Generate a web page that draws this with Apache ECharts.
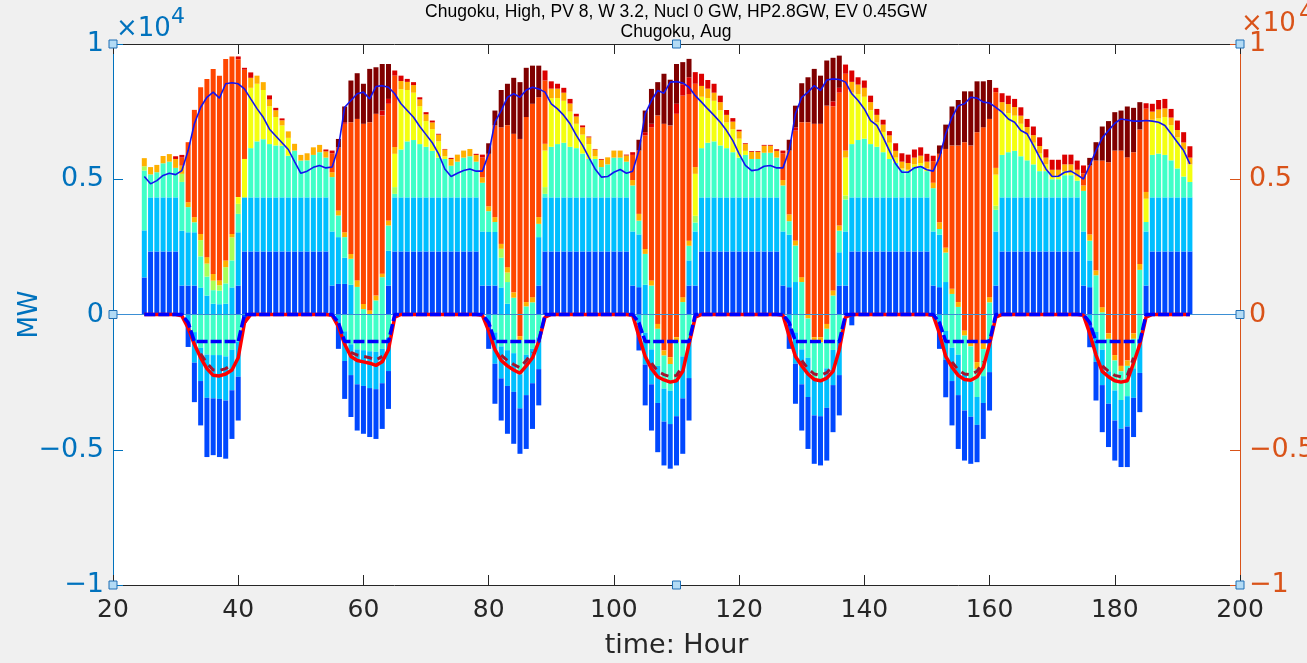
<!DOCTYPE html>
<html><head><meta charset="utf-8">
<script src="https://cdn.jsdelivr.net/npm/echarts@6/dist/echarts.min.js"></script>
<style>html,body{margin:0;padding:0;background:#f0f0f0;}#c{width:1307px;height:663px;}</style>
</head><body><div id="c"></div>
<script>
// ---- axis / labels ----
const xStart = 20, xEnd = 200, firstHour = 25;
const xTickLabels = ['20','40','60','80','100','120','140','160','180','200'];
const yTickValues = [-10000,-5000,0,5000,10000];
const yTickLabels = ['\u22121','\u22120.5','0','0.5','1'];
const titleLine2 = 'Chugoku, High, PV 8, W 3.2, Nucl 0 GW, HP2.8GW, EV 0.45GW';
const titleLine3 = 'Chugoku, Aug';

// ---- positive stacked supply (MW), hours 25..192, one day per line ----
const sDB = [
1370,2330,2330,2330,2330,2330,1070,1070,1070,0,0,0,0,0,0,1070,2330,2330,2330,2330,2330,2330,2330,2330,
2330,2330,2330,2330,2330,2330,1070,1130,1130,0,0,0,0,0,0,1070,2330,2330,2330,2330,2330,2330,2330,2330,
2330,2330,2330,2330,2330,2330,1070,1070,1070,0,0,0,0,0,0,1070,2330,2330,2330,2330,2330,2330,2330,2330,
2330,2330,2330,2330,2330,2330,1070,1010,0,0,0,0,0,0,0,1070,1070,2330,2330,2330,2330,2330,2330,2330,
2330,2330,2330,2330,2330,2330,1070,1010,0,0,0,0,0,0,0,1070,1070,2330,2330,2330,2330,2330,2330,2330,
2330,2330,2330,2330,2330,2330,1070,1010,0,0,0,0,0,0,0,0,1070,2330,2330,2330,2330,2330,2330,2330,
2330,2330,2330,2330,2330,2330,1070,1010,0,0,0,0,0,0,0,0,1070,2330,2330,2330,2330,2330,2330,2330];
const sLB = [
1740,2000,2000,2000,2000,2000,2030,1970,1970,1000,700,400,380,400,1000,1970,2000,2000,2000,2000,2000,2000,2000,2000,
2000,2000,2000,2000,2000,2000,2000,1730,970,1100,0,0,0,0,0,1290,2000,2000,2000,2000,2000,2000,2000,2000,
2000,2000,2000,2000,2000,2000,2000,1980,1980,1000,400,0,0,0,0,1790,2000,2000,2000,2000,2000,2000,2000,2000,
2000,2000,2000,2000,2000,2000,2000,1950,1100,0,0,0,0,0,0,930,2000,2000,2000,2000,2000,2000,2000,2000,
2000,2000,2000,2000,2000,2000,2000,1940,1200,0,0,0,0,0,0,1230,2000,2000,2000,2000,2000,2000,2000,2000,
2000,2000,2000,2000,2000,2000,2000,1940,1200,0,0,0,0,0,0,0,2000,2000,2000,2000,2000,2000,2000,2000,
2000,2000,2000,2000,2000,2000,2000,990,0,0,0,0,0,0,0,0,2000,2000,2000,2000,2000,2000,2000,2000];
const sCY = [
2210,850,930,1260,1320,1090,1800,930,370,1150,700,500,500,750,1000,680,0,1820,2070,2150,1970,1920,1910,1540,
1730,1360,1370,1570,1670,1470,2010,800,760,960,1020,200,0,520,1380,930,130,1770,2070,2120,1970,1870,1720,1470,
1420,1170,1320,1470,1520,1320,1800,770,370,1100,800,620,0,300,450,490,130,1870,1970,2020,1870,1820,1620,1420,
1420,1120,1220,1470,1470,1320,1700,510,1140,1070,0,0,0,0,460,540,330,1820,2020,2070,1920,1820,1670,1470,
1570,1420,1420,1650,1650,1470,1700,500,1350,1200,0,0,0,0,700,800,1180,1970,2120,2170,1970,1870,1670,1420,
1270,1020,970,1120,1170,970,1600,210,1090,760,280,0,0,0,0,450,800,1570,1670,1720,1520,1370,1220,970,
970,670,670,820,820,620,1500,730,1450,80,0,0,0,0,0,1650,350,1570,1620,1570,1370,1070,770,570];
const sGR = [
160,0,0,0,0,0,300,0,0,600,480,350,200,600,850,370,0,0,0,0,0,0,0,0,
0,0,0,0,0,0,0,0,0,0,0,0,0,0,0,0,250,0,0,0,0,0,0,0,
0,0,0,0,0,0,0,0,0,330,350,0,0,0,0,0,250,0,0,0,0,0,0,0,
0,0,0,0,0,0,0,0,0,0,0,0,0,0,0,0,250,0,0,0,0,0,0,0,
0,0,0,0,0,0,0,0,0,0,0,0,0,0,0,0,150,0,0,0,0,0,0,0,
0,0,0,0,0,0,0,0,0,0,0,0,0,0,0,0,150,0,0,0,0,0,0,0,
0,0,0,0,0,0,0,0,0,0,0,0,0,0,0,0,0,0,0,0,0,0,0,0];
const sYE = [
0,0,0,0,0,0,0,0,0,0,0,0,0,0,0,250,1420,2230,2130,1820,1400,1050,750,660,
0,0,0,0,0,0,0,0,0,0,0,0,0,0,0,0,1230,2230,1900,1750,1400,950,800,600,
100,0,0,0,0,0,0,0,0,0,0,0,0,0,0,0,1350,1800,1700,1550,1300,900,700,550,
100,0,0,0,0,0,0,0,0,0,0,0,0,0,0,0,1550,1900,1650,1500,1300,950,850,700,
150,0,0,0,0,0,0,0,0,0,0,0,0,0,0,0,1400,1900,1700,1550,1250,900,750,600,
200,50,50,100,100,100,0,0,0,0,0,0,0,0,0,0,1150,1600,1450,1300,1200,950,800,650,
250,100,100,150,150,150,0,0,0,0,0,0,0,0,0,0,860,1300,1300,1400,1300,1150,1000,650];
const sOR = [
300,270,270,270,280,330,300,180,190,230,240,250,180,250,130,0,0,370,300,290,250,250,190,240,
250,210,260,280,270,230,180,180,180,180,240,190,150,180,130,180,250,300,300,280,250,250,250,250,
250,250,260,260,270,250,200,180,180,180,200,200,0,160,190,250,250,350,350,300,300,270,270,250,
250,270,260,260,260,230,200,250,180,190,0,0,0,0,180,190,250,400,350,300,300,280,280,270,
250,260,260,260,260,250,200,250,180,180,0,0,0,0,190,190,260,400,350,330,300,280,270,270,
250,250,250,250,270,250,200,250,180,190,180,0,0,0,0,190,250,350,330,320,300,280,280,280,
250,250,250,250,250,250,200,230,180,190,0,0,0,0,0,220,250,300,330,320,280,270,260,250];
const sPV = [
0,0,0,0,0,0,300,2220,3965,5420,6590,7580,7570,7450,6560,5100,3300,0,0,0,0,0,0,0,
0,0,0,0,0,0,700,2340,4010,4870,5970,6660,6960,6720,5850,4320,2640,0,0,0,0,0,0,0,
0,0,0,0,0,0,740,1940,3390,4310,5250,5860,6490,6840,7150,4430,2340,0,0,0,0,0,0,0,
0,0,0,0,0,0,930,2340,4200,5660,7360,7050,6990,7420,7450,5420,3080,0,0,0,0,0,0,0,
0,0,0,0,0,0,990,2360,4070,5730,7110,7050,7050,7720,6810,4910,2840,0,0,0,0,0,0,0,
0,0,0,0,0,0,800,2530,3650,5300,5790,6370,6250,6740,6920,6590,2800,0,0,0,0,0,0,0,
0,0,0,0,0,0,450,2550,4060,5420,5630,6060,6060,5810,6000,4970,3080,0,0,0,0,0,0,0];
const sRD = [
0,0,0,0,0,100,100,0,0,0,0,0,0,0,0,100,70,200,0,0,150,90,70,0,
0,0,0,0,0,70,100,0,60,0,0,0,0,0,180,180,190,200,110,110,80,80,70,30,
20,40,0,0,0,40,100,0,0,0,0,0,0,0,0,0,370,270,180,180,170,100,70,30,
20,30,0,0,0,30,100,0,120,130,0,0,0,370,420,620,430,450,320,330,240,180,130,60,
30,30,30,30,30,60,100,0,120,0,0,0,0,0,180,180,340,420,270,270,240,220,180,160,
280,310,310,300,310,290,200,0,0,0,0,0,0,0,0,0,160,330,310,300,310,300,320,320,
310,370,370,360,360,340,290,0,0,0,0,0,0,0,0,0,200,290,350,350,320,350,380,420];
const sDR = [
0,0,0,0,0,0,0,0,0,0,0,0,0,0,0,0,0,0,0,0,0,0,0,0,
0,0,0,0,0,0,0,310,580,1540,1690,1480,1970,1720,1720,1290,0,0,0,0,0,0,0,0,
0,0,0,0,0,0,0,390,550,1380,1530,2070,2100,1820,1410,1170,0,0,0,0,0,0,0,0,
0,0,0,0,0,0,0,400,800,1290,1230,1850,1690,1470,820,680,0,0,0,0,0,0,0,0,
0,0,0,0,0,0,0,400,800,1440,1660,2030,1780,1670,1610,1190,0,0,0,0,0,0,0,0,
0,0,0,0,0,0,0,310,900,1440,1680,1880,2000,1880,1700,1440,0,0,0,0,0,0,0,0,
0,0,0,0,0,0,0,280,680,1260,1520,1420,1480,1880,1640,1010,0,0,0,0,0,0,0,0];

// ---- negative stacked (MW), from zero downward ----
const nPV = [
0,0,0,0,0,0,0,0,0,0,0,0,0,0,0,0,0,0,0,0,0,0,0,0,
0,0,0,0,0,0,0,0,0,0,0,0,0,0,0,0,0,0,0,0,0,0,0,0,
0,0,0,0,0,0,0,0,0,0,0,0,-800,0,0,0,0,0,0,0,0,0,0,0,
0,0,0,0,0,0,0,0,0,0,-350,-1330,-1580,-840,0,0,0,0,0,0,0,0,0,0,
0,0,0,0,0,0,0,0,0,0,0,-840,-840,-350,0,0,0,0,0,0,0,0,0,0,
0,0,0,0,0,0,0,0,0,0,0,-600,-960,-1760,-1080,0,0,0,0,0,0,0,0,0,
0,0,0,0,0,0,0,0,0,0,-700,-1500,-1900,-1700,-700,0,0,0,0,0,0,0,0,0];
const nOR = [
0,0,0,0,0,0,0,0,0,0,0,0,0,0,0,0,0,0,0,0,0,0,0,0,
0,0,0,0,0,0,0,0,0,0,0,0,0,0,0,0,0,0,0,0,0,0,0,0,
0,0,0,0,0,0,0,0,0,0,0,0,-150,0,0,0,0,0,0,0,0,0,0,0,
0,0,0,0,0,0,0,0,0,0,-180,-190,-250,-180,0,0,0,0,0,0,0,0,0,0,
0,0,0,0,0,0,0,0,0,0,-150,-190,-190,-180,0,0,0,0,0,0,0,0,0,0,
0,0,0,0,0,0,0,0,0,0,0,-180,-220,-250,-200,0,0,0,0,0,0,0,0,0,
0,0,0,0,0,0,0,0,0,0,-200,-200,-200,-200,-200,0,0,0,0,0,0,0,0,0];
const nCY = [
0,0,0,0,0,0,0,0,-650,-1230,-1480,-1500,-1500,-1550,-1300,-1000,0,0,0,0,0,0,0,0,
0,0,0,0,0,0,0,0,-620,-1100,-1290,-1320,-1360,-1380,-1270,-870,0,0,0,0,0,0,0,0,
0,0,0,0,0,0,0,0,-660,-1180,-1320,-1430,-1260,-1490,-1270,-840,0,0,0,0,0,0,0,0,
0,0,0,0,0,0,0,0,-670,-1290,-1370,-1220,-990,-1370,-1550,-980,0,0,0,0,0,0,0,0,
0,0,0,0,0,0,0,0,-660,-1290,-1450,-1350,-1370,-1460,-1310,-930,0,0,0,0,0,0,0,0,
0,0,0,0,0,0,0,0,-610,-1230,-1490,-1390,-1300,-1040,-1000,-890,0,0,0,0,0,0,0,0,
0,0,0,0,0,0,0,0,-640,-1300,-1200,-1110,-1060,-1120,-1090,-900,0,0,0,0,0,0,0,0];
const nLB = [
0,0,0,0,0,0,0,-360,-1130,-1230,-1600,-1600,-1620,-1630,-1500,-1300,0,0,0,0,0,0,0,0,
0,0,0,0,0,0,0,-380,-1100,-1140,-1290,-1320,-1360,-1380,-1270,-1220,0,0,0,0,0,0,0,0,
0,0,0,0,0,0,0,-380,-1160,-1180,-1320,-1430,-1260,-1490,-1270,-1180,0,0,0,0,0,0,0,0,
0,0,0,0,0,0,0,-400,-1180,-1290,-1370,-1220,-1230,-1370,-1550,-1370,0,0,0,0,0,0,0,0,
0,0,0,0,0,0,0,-380,-1160,-1290,-1450,-1350,-1360,-1460,-1300,-1310,0,0,0,0,0,0,0,0,
0,0,0,0,0,0,0,-380,-1070,-1230,-1490,-1380,-1300,-1030,-990,-1240,0,0,0,0,0,0,0,0,
0,0,0,0,0,0,0,-360,-1110,-1310,-1200,-1110,-1060,-1120,-1090,-1260,0,0,0,0,0,0,0,0];
const nDB = [
0,0,0,0,0,0,0,-840,-1460,-1640,-2190,-2100,-2150,-2150,-1800,-1620,-300,0,0,0,0,0,0,0,
0,0,0,0,0,0,0,-890,-1400,-1550,-1710,-1770,-1810,-1840,-1690,-1400,0,0,0,0,0,0,0,0,
0,0,0,0,0,0,0,-890,-1480,-1560,-1770,-1920,-1680,-1990,-1690,-1340,0,0,0,0,0,0,0,0,
0,0,0,0,0,0,0,-930,-1510,-1710,-1820,-1620,-1650,-1820,-2050,-1570,0,0,0,0,0,0,0,0,
0,0,0,0,0,0,0,-890,-1480,-1710,-1920,-1790,-1820,-1950,-1740,-1490,0,-400,0,0,0,0,0,0,
0,0,0,0,0,0,0,-890,-1380,-1640,-1990,-1850,-1740,-1380,-1330,-1420,0,0,0,0,0,0,0,0,
0,0,0,0,0,0,0,-850,-1430,-1740,-1600,-1480,-1420,-1500,-1450,-1450,0,0,0,0,0,0,0,0];

// ---- lines (MW) ----
const demand = [
5100,4830,4950,5140,5220,5170,5320,6060,7050,7660,8030,8220,8000,8530,8570,8530,8340,7970,7610,7290,6850,6600,6350,6100,
5650,5220,5300,5440,5510,5420,5450,6180,7660,7910,8160,8220,7970,8430,8460,8400,8160,7790,7540,7290,6950,6650,6350,5940,
5380,5100,5220,5320,5380,5300,5300,5940,7110,7540,8030,8160,8030,8300,8400,8340,8220,7790,7600,7360,7050,6620,6250,5810,
5380,5080,5100,5260,5360,5220,5300,6060,7420,7910,8280,8180,8590,8610,8560,8400,8090,7850,7600,7360,7110,6800,6430,5940,
5510,5320,5350,5480,5510,5420,5420,6060,7420,8030,8220,8460,8280,8670,8710,8690,8590,8160,7910,7600,7170,6990,6550,6060,
5570,5260,5260,5420,5470,5350,5300,5810,6680,7290,7720,7790,8030,8000,7850,7820,7660,7480,7230,7110,6800,6680,6250,5810,
5380,5100,5110,5260,5300,5160,5010,5510,6060,6530,6800,7070,7230,7190,7150,7150,7170,7150,7110,6990,6680,6370,6060,5570];
const redLine = [
0,0,0,0,0,0,-50,-500,-1100,-1600,-2000,-2250,-2270,-2200,-2050,-1600,-300,0,0,0,0,0,0,0,
0,0,0,0,0,0,-30,-450,-1100,-1550,-1700,-1750,-1800,-1880,-1750,-1300,-100,0,0,0,0,0,0,0,
0,0,0,0,0,0,-30,-600,-1300,-1700,-1900,-2050,-2170,-1900,-1600,-1000,-100,0,0,0,0,0,0,0,
0,0,0,0,0,0,-30,-800,-1550,-2000,-2300,-2420,-2500,-2450,-2100,-1100,-100,0,0,0,0,0,0,0,
0,0,0,0,0,0,-30,-800,-1550,-1900,-2200,-2400,-2450,-2350,-2100,-1300,-100,0,0,0,0,0,0,0,
0,0,0,0,0,0,-30,-700,-1550,-1950,-2250,-2400,-2430,-2300,-1950,-1100,-100,0,0,0,0,0,0,0,
0,0,0,0,0,0,-30,-700,-1500,-2100,-2300,-2450,-2500,-2450,-1800,-1100,-100,0,0,0,0,0,0,0];
const blueDash = [
0,0,0,0,0,0,0,-300,-1000,-1000,-1000,-1000,-1000,-1000,-1000,-1000,0,0,0,0,0,0,0,0,
0,0,0,0,0,0,0,-300,-1000,-1000,-1000,-1000,-1000,-1000,-1000,-1000,0,0,0,0,0,0,0,0,
0,0,0,0,0,0,0,-300,-1000,-1000,-1000,-1000,-1000,-1000,-1000,-1000,0,0,0,0,0,0,0,0,
0,0,0,0,0,0,0,-300,-1000,-1000,-1000,-1000,-1000,-1000,-1000,-1000,0,0,0,0,0,0,0,0,
0,0,0,0,0,0,0,-300,-1000,-1000,-1000,-1000,-1000,-1000,-1000,-1000,0,0,0,0,0,0,0,0,
0,0,0,0,0,0,0,-300,-1000,-1000,-1000,-1000,-1000,-1000,-1000,-1000,0,0,0,0,0,0,0,0,
0,0,0,0,0,0,0,-300,-1000,-1000,-1000,-1000,-1000,-1000,-1000,-1000,0,0,0,0,0,0,0,0];
const brownDash = [
null,null,null,null,null,null,null,null,null,-1450,-1800,-2050,-2070,-2000,-1850,null,null,null,null,null,null,null,null,null,
null,null,null,null,null,null,null,null,null,-1400,-1500,-1550,-1600,-1680,-1550,null,null,null,null,null,null,null,null,null,
null,null,null,null,null,null,null,null,null,-1500,-1700,-1850,-1970,-1700,-1400,null,null,null,null,null,null,null,null,null,
null,null,null,null,null,null,null,null,null,-1800,-2100,-2220,-2300,-2250,-1900,null,null,null,null,null,null,null,null,null,
null,null,null,null,null,null,null,null,null,-1700,-2000,-2200,-2250,-2150,-1900,null,null,null,null,null,null,null,null,null,
null,null,null,null,null,null,null,null,null,-1750,-2050,-2200,-2230,-2100,-1750,null,null,null,null,null,null,null,null,null,
null,null,null,null,null,null,null,null,null,-1900,-2100,-2250,-2300,-2250,-1600,null,null,null,null,null,null,null,null,null];

// ---- build ----
const cats = [];
for (let t = xStart; t <= xEnd; t++) cats.push(String(t));
function pad(a) {
  const out = cats.map(() => null);
  a.forEach((v, i) => { out[i + firstHour - xStart] = v; });
  return out;
}
const TFONT = "'Liberation Sans', Arial, sans-serif";
const AFONT = "'DejaVu Sans', Verdana, sans-serif";
const isTick = (i, v) => xTickLabels.indexOf(String(v)) >= 0;

const barDefs = [
  [sDB, '#0048ff'], [sLB, '#00bfff'], [sCY, '#40ffc8'], [sGR, '#a8ff58'],
  [sYE, '#f4ff10'], [sOR, '#ffb000'], [sPV, '#ff4600'], [sRD, '#dc0000'], [sDR, '#800000'],
  [nPV, '#ff4600'], [nOR, '#ffb000'], [nCY, '#40ffc8'], [nLB, '#00bfff'], [nDB, '#0048ff']
];
const series = barDefs.map(([arr, col]) => ({
  type: 'bar', stack: 'all', data: pad(arr), barWidth: 5,
  itemStyle: { color: col }, silent: true
}));
series.push({ type: 'line', data: pad(redLine), symbol: 'none', z: 5,
  lineStyle: { color: '#ff0000', width: 3.5 } });
series.push({ type: 'line', data: pad(brownDash), symbol: 'none', z: 6, connectNulls: false,
  lineStyle: { color: '#A2142F', width: 3, type: [8, 6] } });
series.push({ type: 'line', data: pad(blueDash), symbol: 'none', z: 7,
  lineStyle: { color: '#0000ff', width: 3.5, type: [11, 3] } });
series.push({ type: 'line', data: pad(demand), symbol: 'none', z: 8,
  lineStyle: { color: '#1414f0', width: 1.6 },
  markLine: { silent: true, symbol: 'none', label: { show: false },
    lineStyle: { color: '#3b8fd4', width: 1, type: 'solid' }, data: [{ yAxis: 0 }] } });

const yFmt = v => { const k = yTickValues.indexOf(v); return k >= 0 ? yTickLabels[k] : ''; };
const L = 113, R = 1240, T = 44, B = 585;
const sq = (x, y) => ({ type: 'rect', z: 100, shape: { x: x - 4, y: y - 4, width: 8, height: 8 },
  style: { fill: '#b3dbf5', stroke: '#1f6fb5', lineWidth: 1 } });

const chart = echarts.init(document.getElementById('c'), null, { renderer: 'canvas' });
chart.setOption({
  animation: false,
  backgroundColor: '#f0f0f0',
  grid: { left: L, right: 1307 - R, top: T, bottom: 663 - B, show: true, backgroundColor: '#ffffff',
    borderWidth: 0, containLabel: false, outerBoundsMode: 'none' },
  xAxis: [
    { type: 'category', data: cats, boundaryGap: false, position: 'bottom',
      axisLine: { onZero: false, lineStyle: { color: '#262626', width: 1 } },
      axisTick: { inside: true, length: 10, interval: isTick, lineStyle: { color: '#262626' } },
      axisLabel: { interval: isTick, color: '#262626', fontSize: 25, margin: 13, fontFamily: AFONT },
      splitLine: { show: false },
      name: 'time: Hour', nameLocation: 'middle', nameGap: 47, nameMoveOverlap: false,
      nameTextStyle: { color: '#262626', fontSize: 27, fontFamily: AFONT } },
    { type: 'category', data: cats, boundaryGap: false, position: 'top',
      axisLine: { onZero: false, lineStyle: { color: '#262626', width: 1 } },
      axisTick: { inside: true, length: 10, interval: isTick, lineStyle: { color: '#262626' } },
      axisLabel: { show: false }, splitLine: { show: false } }
  ],
  yAxis: [
    { type: 'value', min: -10000, max: 10000, interval: 5000, position: 'left',
      axisLine: { show: true, onZero: false, lineStyle: { color: '#0072BD', width: 1 } },
      axisTick: { show: true, inside: true, length: 10, lineStyle: { color: '#0072BD' } },
      axisLabel: { formatter: yFmt, color: '#0072BD', fontSize: 27, margin: 9, fontFamily: AFONT },
      splitLine: { show: false },
      name: 'MW', nameLocation: 'middle', nameGap: 70, nameMoveOverlap: false,
      nameTextStyle: { color: '#0072BD', fontSize: 26, fontFamily: AFONT } },
    { type: 'value', min: -10000, max: 10000, interval: 5000, position: 'right',
      axisLine: { show: true, onZero: false, lineStyle: { color: '#D95319', width: 1 } },
      axisTick: { show: true, inside: true, length: 10, lineStyle: { color: '#D95319' } },
      axisLabel: { formatter: yFmt, color: '#D95319', fontSize: 27, margin: 9, fontFamily: AFONT },
      splitLine: { show: false } }
  ],
  series: series,
  graphic: [
    { type: 'text', x: 676, y: 12, z: 50,
      style: { text: titleLine2, fill: '#000', font: '17.5px ' + TFONT, align: 'center', verticalAlign: 'middle' } },
    { type: 'text', x: 676, y: 32, z: 50,
      style: { text: titleLine3, fill: '#000', font: '17.5px ' + TFONT, align: 'center', verticalAlign: 'middle' } },
    { type: 'text', x: 116, y: 29, z: 50, style: { text: '\u00d710', fill: '#0072BD', font: '26px ' + AFONT, verticalAlign: 'middle' } },
    { type: 'text', x: 171, y: 17, z: 50, style: { text: '4', fill: '#0072BD', font: '22px ' + AFONT, verticalAlign: 'middle' } },
    { type: 'text', x: 1241, y: 24, z: 50, style: { text: '\u00d710', fill: '#D95319', font: '26px ' + AFONT, verticalAlign: 'middle' } },
    { type: 'text', x: 1299, y: 14, z: 50, style: { text: '4', fill: '#D95319', font: '24px ' + AFONT, verticalAlign: 'middle' } },
    sq(L, T), sq((L + R) / 2, T), sq(R, T), sq(L, (T + B) / 2), sq(R, (T + B) / 2),
    sq(L, B), sq((L + R) / 2, B), sq(R, B)
  ]
});
</script></body></html>
